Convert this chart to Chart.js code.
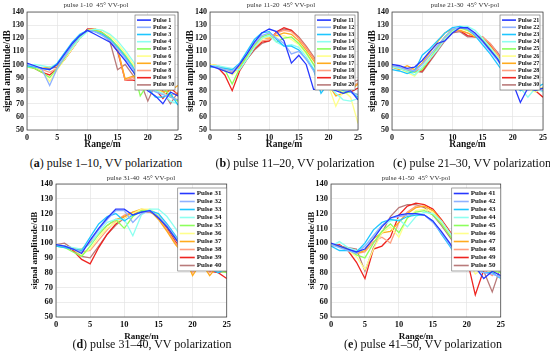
<!DOCTYPE html>
<html>
<head>
<meta charset="utf-8">
<script src="https://cdn.jsdelivr.net/npm/chart.js@4.4.1/dist/chart.umd.min.js"></script>
<style>
  body { margin: 0; background: #fff; width: 550px; height: 357px; position: relative; overflow: hidden; font-family: "Liberation Serif", serif; }
  canvas { position: absolute; }
  .ttl { position: absolute; font-size: 7px; color: #333; white-space: pre; transform: translateX(-50%); line-height: 1; }
  .cap { position: absolute; font-size: 12px; color: #111; white-space: nowrap; transform: translateX(-50%); line-height: 1; }
</style>
</head>
<body>
<script>
// Range axis, one sample every 1.25 m
const rangeM = [0, 1.25, 2.5, 3.75, 5, 6.25, 7.5, 8.75, 10, 11.25, 12.5, 13.75, 15, 16.25, 17.5, 18.75, 20, 21.25, 22.5, 23.75, 25];

const pulses01to10 = [
  [101, 99, 97, 96, 100, 108, 116, 122, 126, 123, 120, 117, 110, 103, 95, 86, 80, 76, 70, 79, 76],
  [100, 99, 96, 84, 97, 106, 115, 122, 126, 125, 122, 118, 112, 105, 97, 88, 82, 79, 77, 75, 73],
  [99, 98, 97, 96, 101, 109, 117, 123, 126, 125, 123, 119, 113, 106, 98, 89, 82, 75, 75, 78, 69],
  [98, 100, 99, 98, 100, 106, 113, 120, 125, 127, 126, 123, 118, 111, 103, 94, 86, 80, 78, 72, 70],
  [98, 97, 94, 90, 97, 105, 114, 121, 126, 126, 124, 120, 114, 107, 99, 76, 85, 80, 82, 76, 72],
  [99, 98, 95, 87, 96, 104, 112, 120, 126, 127, 126, 122, 116, 109, 101, 92, 84, 82, 78, 75, 73],
  [99, 98, 97, 98, 99, 106, 114, 121, 126, 127, 124, 120, 112, 89, 91, 88, 85, 82, 79, 80, 84],
  [99, 98, 96, 94, 97, 104, 112, 120, 126, 127, 124, 119, 112, 88, 90, 86, 83, 80, 78, 76, 79],
  [99, 97, 94, 92, 97, 104, 112, 120, 127, 127, 124, 118, 110, 88, 88, 87, 83, 81, 74, 82, 77],
  [99, 98, 97, 97, 98, 104, 112, 120, 127, 127, 124, 117, 96, 100, 92, 87, 72, 85, 80, 70, 79]
];

const pulses11to20 = [
  [99, 97, 95, 93, 100, 108, 117, 124, 127, 125, 118, 101, 107, 100, 81, 81, 82, 80, 78, 80, 73],
  [99, 98, 96, 95, 100, 108, 116, 122, 124, 120, 116, 108, 110, 104, 95, 86, 84, 82, 81, 79, 77],
  [98, 98, 97, 96, 101, 110, 119, 124, 125, 119, 114, 114, 111, 104, 96, 78, 86, 84, 80, 79, 75],
  [99, 99, 98, 97, 96, 104, 113, 120, 122, 117, 114, 115, 113, 106, 97, 88, 84, 78, 73, 72, 74],
  [99, 98, 96, 85, 97, 106, 115, 121, 123, 117, 120, 121, 116, 109, 100, 90, 85, 82, 78, 79, 77],
  [100, 99, 97, 92, 97, 105, 113, 119, 122, 121, 122, 119, 115, 108, 100, 91, 84, 68, 80, 75, 55],
  [100, 99, 97, 96, 99, 106, 114, 120, 120, 122, 124, 123, 118, 111, 103, 94, 85, 76, 78, 81, 85],
  [100, 98, 95, 94, 98, 105, 113, 118, 119, 124, 126, 125, 120, 113, 105, 96, 87, 82, 80, 82, 86],
  [100, 98, 92, 80, 95, 104, 112, 117, 118, 125, 128, 126, 120, 113, 105, 96, 87, 84, 80, 79, 82],
  [99, 98, 95, 94, 97, 104, 111, 116, 118, 124, 127, 126, 121, 114, 106, 97, 88, 85, 83, 86, 88]
];

const pulses21to30 = [
  [100, 99, 97, 98, 103, 110, 116, 118, 124, 128, 128, 124, 118, 111, 104, 94, 86, 71, 82, 80, 82],
  [99, 98, 96, 95, 100, 107, 114, 121, 127, 128, 127, 123, 117, 110, 103, 94, 87, 82, 80, 82, 80],
  [96, 95, 93, 95, 107, 112, 118, 124, 128, 129, 127, 122, 115, 108, 100, 92, 85, 80, 83, 82, 85],
  [98, 97, 95, 92, 98, 104, 111, 119, 125, 129, 129, 126, 120, 113, 105, 96, 88, 82, 75, 82, 79],
  [98, 97, 95, 94, 96, 104, 113, 121, 126, 128, 126, 123, 119, 112, 105, 96, 88, 84, 82, 80, 82],
  [99, 97, 94, 91, 98, 106, 114, 121, 126, 127, 126, 122, 119, 113, 106, 97, 89, 84, 81, 79, 83],
  [98, 96, 99, 96, 101, 109, 117, 124, 127, 126, 124, 121, 120, 114, 106, 97, 89, 85, 82, 81, 82],
  [99, 97, 96, 95, 97, 104, 112, 120, 125, 126, 124, 122, 121, 116, 108, 99, 90, 85, 83, 82, 81],
  [98, 97, 96, 95, 95, 103, 111, 119, 125, 126, 122, 121, 121, 115, 108, 99, 90, 86, 84, 80, 75],
  [99, 97, 96, 95, 94, 102, 110, 118, 124, 125, 121, 121, 120, 116, 109, 100, 91, 86, 83, 81, 82]
];

const pulses31to40 = [
  [99, 98, 96, 93, 102, 110, 117, 123, 123, 119, 121, 122, 117, 111, 103, 95, 88, 83, 82, 85, 88],
  [99, 98, 96, 94, 101, 109, 116, 122, 122, 114, 120, 122, 118, 112, 104, 96, 88, 84, 83, 81, 84],
  [98, 97, 96, 95, 104, 113, 118, 120, 115, 119, 121, 122, 120, 113, 105, 96, 88, 84, 83, 80, 83],
  [99, 98, 97, 96, 99, 107, 114, 116, 116, 105, 119, 123, 123, 118, 110, 101, 92, 86, 83, 81, 82],
  [98, 97, 94, 91, 98, 106, 112, 116, 110, 118, 122, 122, 118, 111, 103, 95, 88, 84, 82, 81, 80],
  [99, 98, 96, 92, 96, 104, 110, 114, 117, 120, 123, 123, 119, 112, 104, 96, 89, 85, 82, 81, 82],
  [99, 98, 96, 96, 100, 106, 112, 116, 118, 121, 123, 122, 116, 108, 99, 92, 78, 87, 78, 85, 83],
  [99, 98, 96, 94, 95, 102, 109, 115, 119, 121, 122, 122, 117, 109, 100, 93, 80, 86, 80, 84, 82],
  [99, 98, 95, 89, 86, 97, 106, 113, 118, 120, 121, 122, 117, 110, 101, 94, 88, 84, 81, 80, 76],
  [99, 100, 96, 91, 90, 98, 106, 112, 117, 120, 121, 121, 118, 111, 103, 95, 89, 85, 82, 80, 81]
];

const pulses41to50 = [
  [100, 98, 96, 94, 96, 103, 111, 117, 119, 120, 120, 119, 115, 108, 100, 91, 82, 84, 76, 81, 78],
  [99, 97, 95, 93, 98, 105, 112, 117, 118, 119, 120, 119, 114, 107, 99, 90, 84, 82, 80, 79, 77],
  [98, 95, 95, 94, 100, 109, 114, 116, 115, 118, 119, 119, 115, 106, 98, 89, 84, 82, 80, 80, 76],
  [98, 101, 97, 95, 98, 105, 112, 115, 116, 111, 118, 121, 120, 115, 107, 99, 91, 86, 83, 81, 84],
  [99, 98, 96, 92, 90, 100, 108, 113, 107, 117, 121, 122, 119, 113, 105, 97, 90, 85, 82, 81, 80],
  [99, 98, 95, 91, 82, 96, 107, 111, 104, 117, 122, 123, 121, 114, 106, 98, 90, 79, 83, 80, 82],
  [99, 98, 96, 93, 95, 103, 107, 108, 114, 120, 124, 125, 122, 115, 106, 97, 89, 84, 83, 84, 87],
  [99, 98, 96, 93, 94, 101, 104, 100, 114, 121, 125, 125, 122, 115, 107, 98, 90, 85, 82, 78, 85],
  [98, 99, 95, 87, 76, 96, 98, 104, 119, 125, 127, 126, 123, 116, 108, 99, 90, 65, 82, 83, 89],
  [99, 98, 97, 96, 81, 97, 107, 118, 124, 126, 126, 124, 119, 112, 104, 96, 88, 84, 81, 67, 84]
];

const panelSeries = [pulses01to10, pulses11to20, pulses21to30, pulses31to40, pulses41to50];
const firstPulse = [1, 11, 21, 31, 41];
const panelTitles = ["pulse 1-10  45° VV-pol", "pulse 11-20  45° VV-pol", "pulse 21-30  45° VV-pol", "pulse 31-40  45° VV-pol", "pulse 41-50  45° VV-pol"];
const captionLetters = ["a", "b", "c", "d", "e"];
const captionTexts = [" pulse 1–10, VV polarization", " pulse 11–20, VV polarization", " pulse 21–30, VV polarization", " pulse 31–40, VV polarization", " pulse 41–50, VV polarization"];
const xTicks = [0, 5, 10, 15, 20, 25];
const yTicks = [50, 60, 70, 80, 90, 100, 110, 120, 130, 140];

// jet-like palette, one per pulse in a panel
const pulseColors = ["#2638ff", "#8fb1ff", "#1ec6ff", "#8dfff0", "#8cff5c", "#ffff8c", "#ffab1e", "#ff9e80", "#ee2420", "#b97a7a"];

// page layout: canvas box + plot area inside it
const layout = [
  { left: 0,   top: 0,   w: 185, h: 152, L: 27, R: 180, T: 12, B: 130, tick: 8,   axis: 9.5, ytx: 7.5, leg: { w: 40, row: 7.2, size: 6, line: 14, right: 3, top: 3 }, tx: 96,  ty: 2,   cx: 106, cy: 157 },
  { left: 183, top: 0,   w: 182, h: 152, L: 27, R: 180, T: 12, B: 130, tick: 8,   axis: 9.5, ytx: 8,   leg: { w: 40, row: 7.2, size: 6, line: 14, right: 3, top: 3 }, tx: 281, ty: 2,   cx: 295, cy: 157 },
  { left: 365, top: 0,   w: 185, h: 152, L: 27, R: 178, T: 12, B: 130, tick: 8,   axis: 9.5, ytx: 8,   leg: { w: 40, row: 7.2, size: 6, line: 14, right: 3, top: 3 }, tx: 465, ty: 2,   cx: 472, cy: 157 },
  { left: 24,  top: 172, w: 210, h: 172, L: 32, R: 203, T: 12, B: 145, tick: 8.5, axis: 9,   ytx: 11,  leg: { w: 49, row: 8,   size: 7, line: 15, right: 0, top: 4 }, tx: 141, ty: 175, cx: 152, cy: 338 },
  { left: 298, top: 172, w: 210, h: 172, L: 33, R: 204, T: 12, B: 145, tick: 8.5, axis: 9,   ytx: 14,  leg: { w: 49, row: 8,   size: 7, line: 15, right: 0, top: 4 }, tx: 416, ty: 175, cx: 423, cy: 338 }
];

Chart.defaults.font.family = '"Liberation Serif", serif';
Chart.defaults.color = "#111";

const frameAndLegend = {
  id: "frameAndLegend",
  afterDatasetsDraw(chart, args, opts) {
    const { ctx, chartArea: a } = chart;
    ctx.save();
    ctx.strokeStyle = "#333";
    ctx.lineWidth = 0.7;
    ctx.strokeRect(a.left, a.top, a.right - a.left, a.bottom - a.top);

    const lg = opts.leg;
    const n = chart.data.datasets.length;
    const h = lg.row * n + 3;
    const x0 = a.right - lg.right - lg.w;
    const y0 = a.top + lg.top;
    ctx.fillStyle = "#fff";
    ctx.fillRect(x0, y0, lg.w, h);
    ctx.strokeStyle = "#666";
    ctx.lineWidth = 0.6;
    ctx.strokeRect(x0, y0, lg.w, h);
    ctx.font = `bold ${lg.size}px "Liberation Serif"`;
    ctx.textBaseline = "middle";
    chart.data.datasets.forEach((ds, i) => {
      const y = y0 + 1.5 + lg.row * (i + 0.5);
      ctx.strokeStyle = ds.borderColor;
      ctx.lineWidth = 1.6;
      ctx.beginPath();
      ctx.moveTo(x0 + 2, y);
      ctx.lineTo(x0 + 2 + lg.line, y);
      ctx.stroke();
      ctx.fillStyle = "#111";
      ctx.fillText(ds.label, x0 + lg.line + 4, y);
    });
    ctx.restore();
  }
};

layout.forEach((p, k) => {
  const cv = document.createElement("canvas");
  cv.width = p.w; cv.height = p.h;
  cv.style.left = p.left + "px"; cv.style.top = p.top + "px";
  cv.style.width = p.w + "px"; cv.style.height = p.h + "px";
  document.body.appendChild(cv);

  const ttl = document.createElement("div");
  ttl.className = "ttl";
  ttl.style.left = p.tx + "px"; ttl.style.top = p.ty + "px";
  ttl.textContent = panelTitles[k];
  document.body.appendChild(ttl);

  const cap = document.createElement("div");
  cap.className = "cap";
  cap.style.left = p.cx + "px"; cap.style.top = p.cy + "px";
  cap.innerHTML = "(<b>" + captionLetters[k] + "</b>)" + captionTexts[k];
  document.body.appendChild(cap);

  const datasets = panelSeries[k].map((vals, i) => ({
    label: "Pulse " + (firstPulse[k] + i),
    data: vals.map((v, j) => ({ x: rangeM[j], y: v })),
    borderColor: pulseColors[i],
    borderWidth: 1.3,
    pointRadius: 0,
    tension: 0,
    fill: false
  }));

  new Chart(cv, {
    type: "line",
    data: { datasets },
    plugins: [frameAndLegend],
    options: {
      responsive: false,
      animation: false,
      devicePixelRatio: 1,
      layout: { padding: { top: p.T, right: p.w - p.R, left: 0, bottom: 0 } },
      plugins: {
        legend: { display: false },
        tooltip: { enabled: false },
        frameAndLegend: { leg: p.leg }
      },
      scales: {
        x: {
          type: "linear", min: 0, max: 25,
          afterBuildTicks: s => { s.ticks = xTicks.map(v => ({ value: v })); },
          afterFit: s => { s.height = p.h - p.B; },
          grid: { color: "#e4e4e4", lineWidth: 0.7, drawTicks: false },
          border: { display: false },
          ticks: { padding: 3, maxRotation: 0, font: { size: p.tick, weight: "bold" }, color: "#111" },
          title: { display: true, text: "Range/m", font: { size: p.axis, weight: "bold" }, color: "#111", padding: { top: 0, bottom: 2 } }
        },
        y: {
          min: 50, max: 140,
          afterBuildTicks: s => { s.ticks = yTicks.map(v => ({ value: v })); },
          afterFit: s => { s.width = p.L; },
          grid: { color: "#e4e4e4", lineWidth: 0.7, drawTicks: false },
          border: { display: false },
          ticks: { padding: 3, font: { size: p.tick, weight: "bold" }, color: "#111" },
          title: { display: true, text: "signal amplitude/dB", font: { size: p.axis, weight: "bold" }, color: "#111", padding: { top: p.ytx - p.axis * 0.6, bottom: 0 } }
        }
      }
    }
  });
});
</script>
</body>
</html>
